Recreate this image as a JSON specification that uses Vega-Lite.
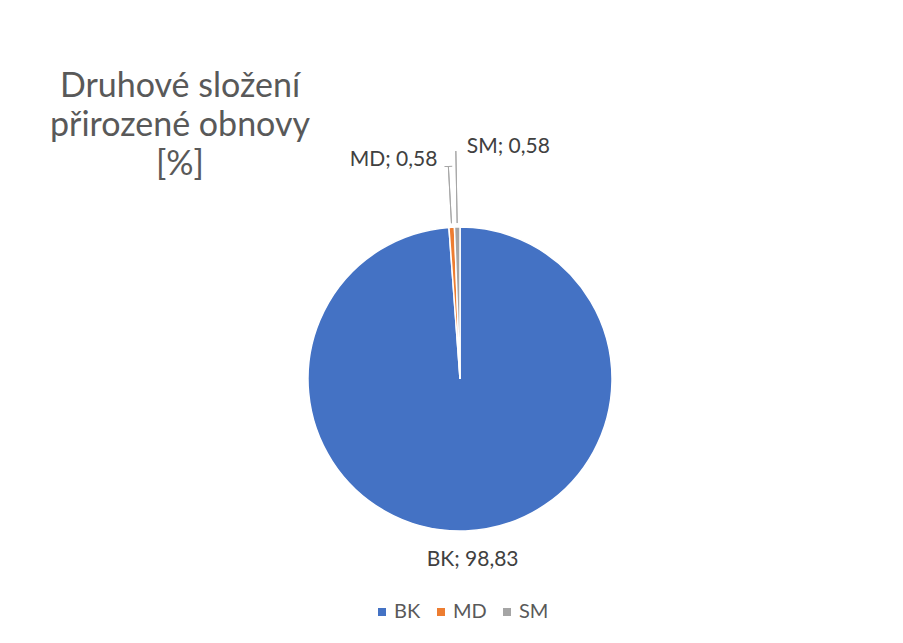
{
  "$schema": "https://vega.github.io/schema/vega-lite/v6.json",
  "width": 560,
  "height": 358,
  "autosize": {"type": "none"},
  "padding": {"left": 180, "top": 200, "right": 163, "bottom": 85},
  "background": "white",
  "config": {
    "view": {"stroke": null},
    "font": "Lato",
    "legend": {"layout": {"bottom": {"anchor": "middle"}}}
  },
  "title": {
    "text": ["Druhové složení", "přirozené obnovy", "[%]"],
    "frame": "group",
    "anchor": "start",
    "align": "center",
    "baseline": "bottom",
    "lineHeight": 39,
    "fontSize": 34,
    "fontWeight": "normal",
    "font": "Lato",
    "color": "#595959",
    "offset": -80
  },
  "data": {
    "values": [
      {"key": "BK", "value": 98.83, "label": "BK; 98,83"},
      {"key": "MD", "value": 0.58, "label": "MD; 0,58"},
      {"key": "SM", "value": 0.58, "label": "SM; 0,58"}
    ]
  },
  "encoding": {
    "theta": {"field": "value", "type": "quantitative", "stack": true},
    "detail": {"field": "key", "type": "nominal"}
  },
  "layer": [
    {
      "mark": {"type": "arc", "radius": 152, "stroke": "white", "strokeWidth": 1.5},
      "encoding": {
        "color": {
          "field": "key",
          "type": "nominal",
          "scale": {"domain": ["BK", "MD", "SM"], "range": ["#4472C4", "#ED7D31", "#A5A5A5"]},
          "legend": {
            "orient": "bottom",
            "direction": "horizontal",
            "title": null,
            "symbolType": "square",
            "symbolSize": 64,
            "symbolStrokeWidth": 0,
            "labelFontSize": 20,
            "labelColor": "#595959",
            "labelFont": "Lato",
            "labelOffset": 2,
            "columnPadding": 10,
            "offset": 44
          }
        }
      }
    },
    {
      "mark": {"type": "arc", "radius": 213, "radius2": 156, "padAngle": 0.3, "fill": null, "stroke": "#a6a6a6", "strokeWidth": 1},
      "encoding": {
        "strokeOpacity": {"condition": {"test": "datum.key === 'MD'", "value": 1}, "value": 0}
      }
    },
    {
      "mark": {"type": "arc", "radius": 228, "radius2": 156, "padAngle": 0.3, "fill": null, "stroke": "#a6a6a6", "strokeWidth": 1},
      "encoding": {
        "strokeOpacity": {"condition": {"test": "datum.key === 'SM'", "value": 1}, "value": 0}
      }
    },
    {
      "mark": {"type": "arc", "radius": 213.5, "radius2": 212.5, "fill": "#a6a6a6", "stroke": null},
      "encoding": {
        "fillOpacity": {"condition": {"test": "datum.key === 'MD'", "value": 1}, "value": 0}
      }
    },
    {
      "mark": {"type": "text", "radius": 213, "align": "right", "baseline": "middle", "dx": -11, "dy": -6, "fontSize": 21, "font": "Lato", "fill": "#404040"},
      "encoding": {
        "text": {"condition": {"test": "datum.key === 'MD'", "field": "label"}, "value": ""}
      }
    },
    {
      "mark": {"type": "text", "radius": 228, "align": "left", "baseline": "middle", "dx": 11, "dy": -4, "fontSize": 21, "font": "Lato", "fill": "#404040"},
      "encoding": {
        "text": {"condition": {"test": "datum.key === 'SM'", "field": "label"}, "value": ""}
      }
    },
    {
      "mark": {"type": "text", "radius": 181, "align": "center", "baseline": "middle", "dx": 6, "dy": 0, "fontSize": 21, "font": "Lato", "fill": "#404040"},
      "encoding": {
        "text": {"condition": {"test": "datum.key === 'BK'", "field": "label"}, "value": ""}
      }
    }
  ]
}
